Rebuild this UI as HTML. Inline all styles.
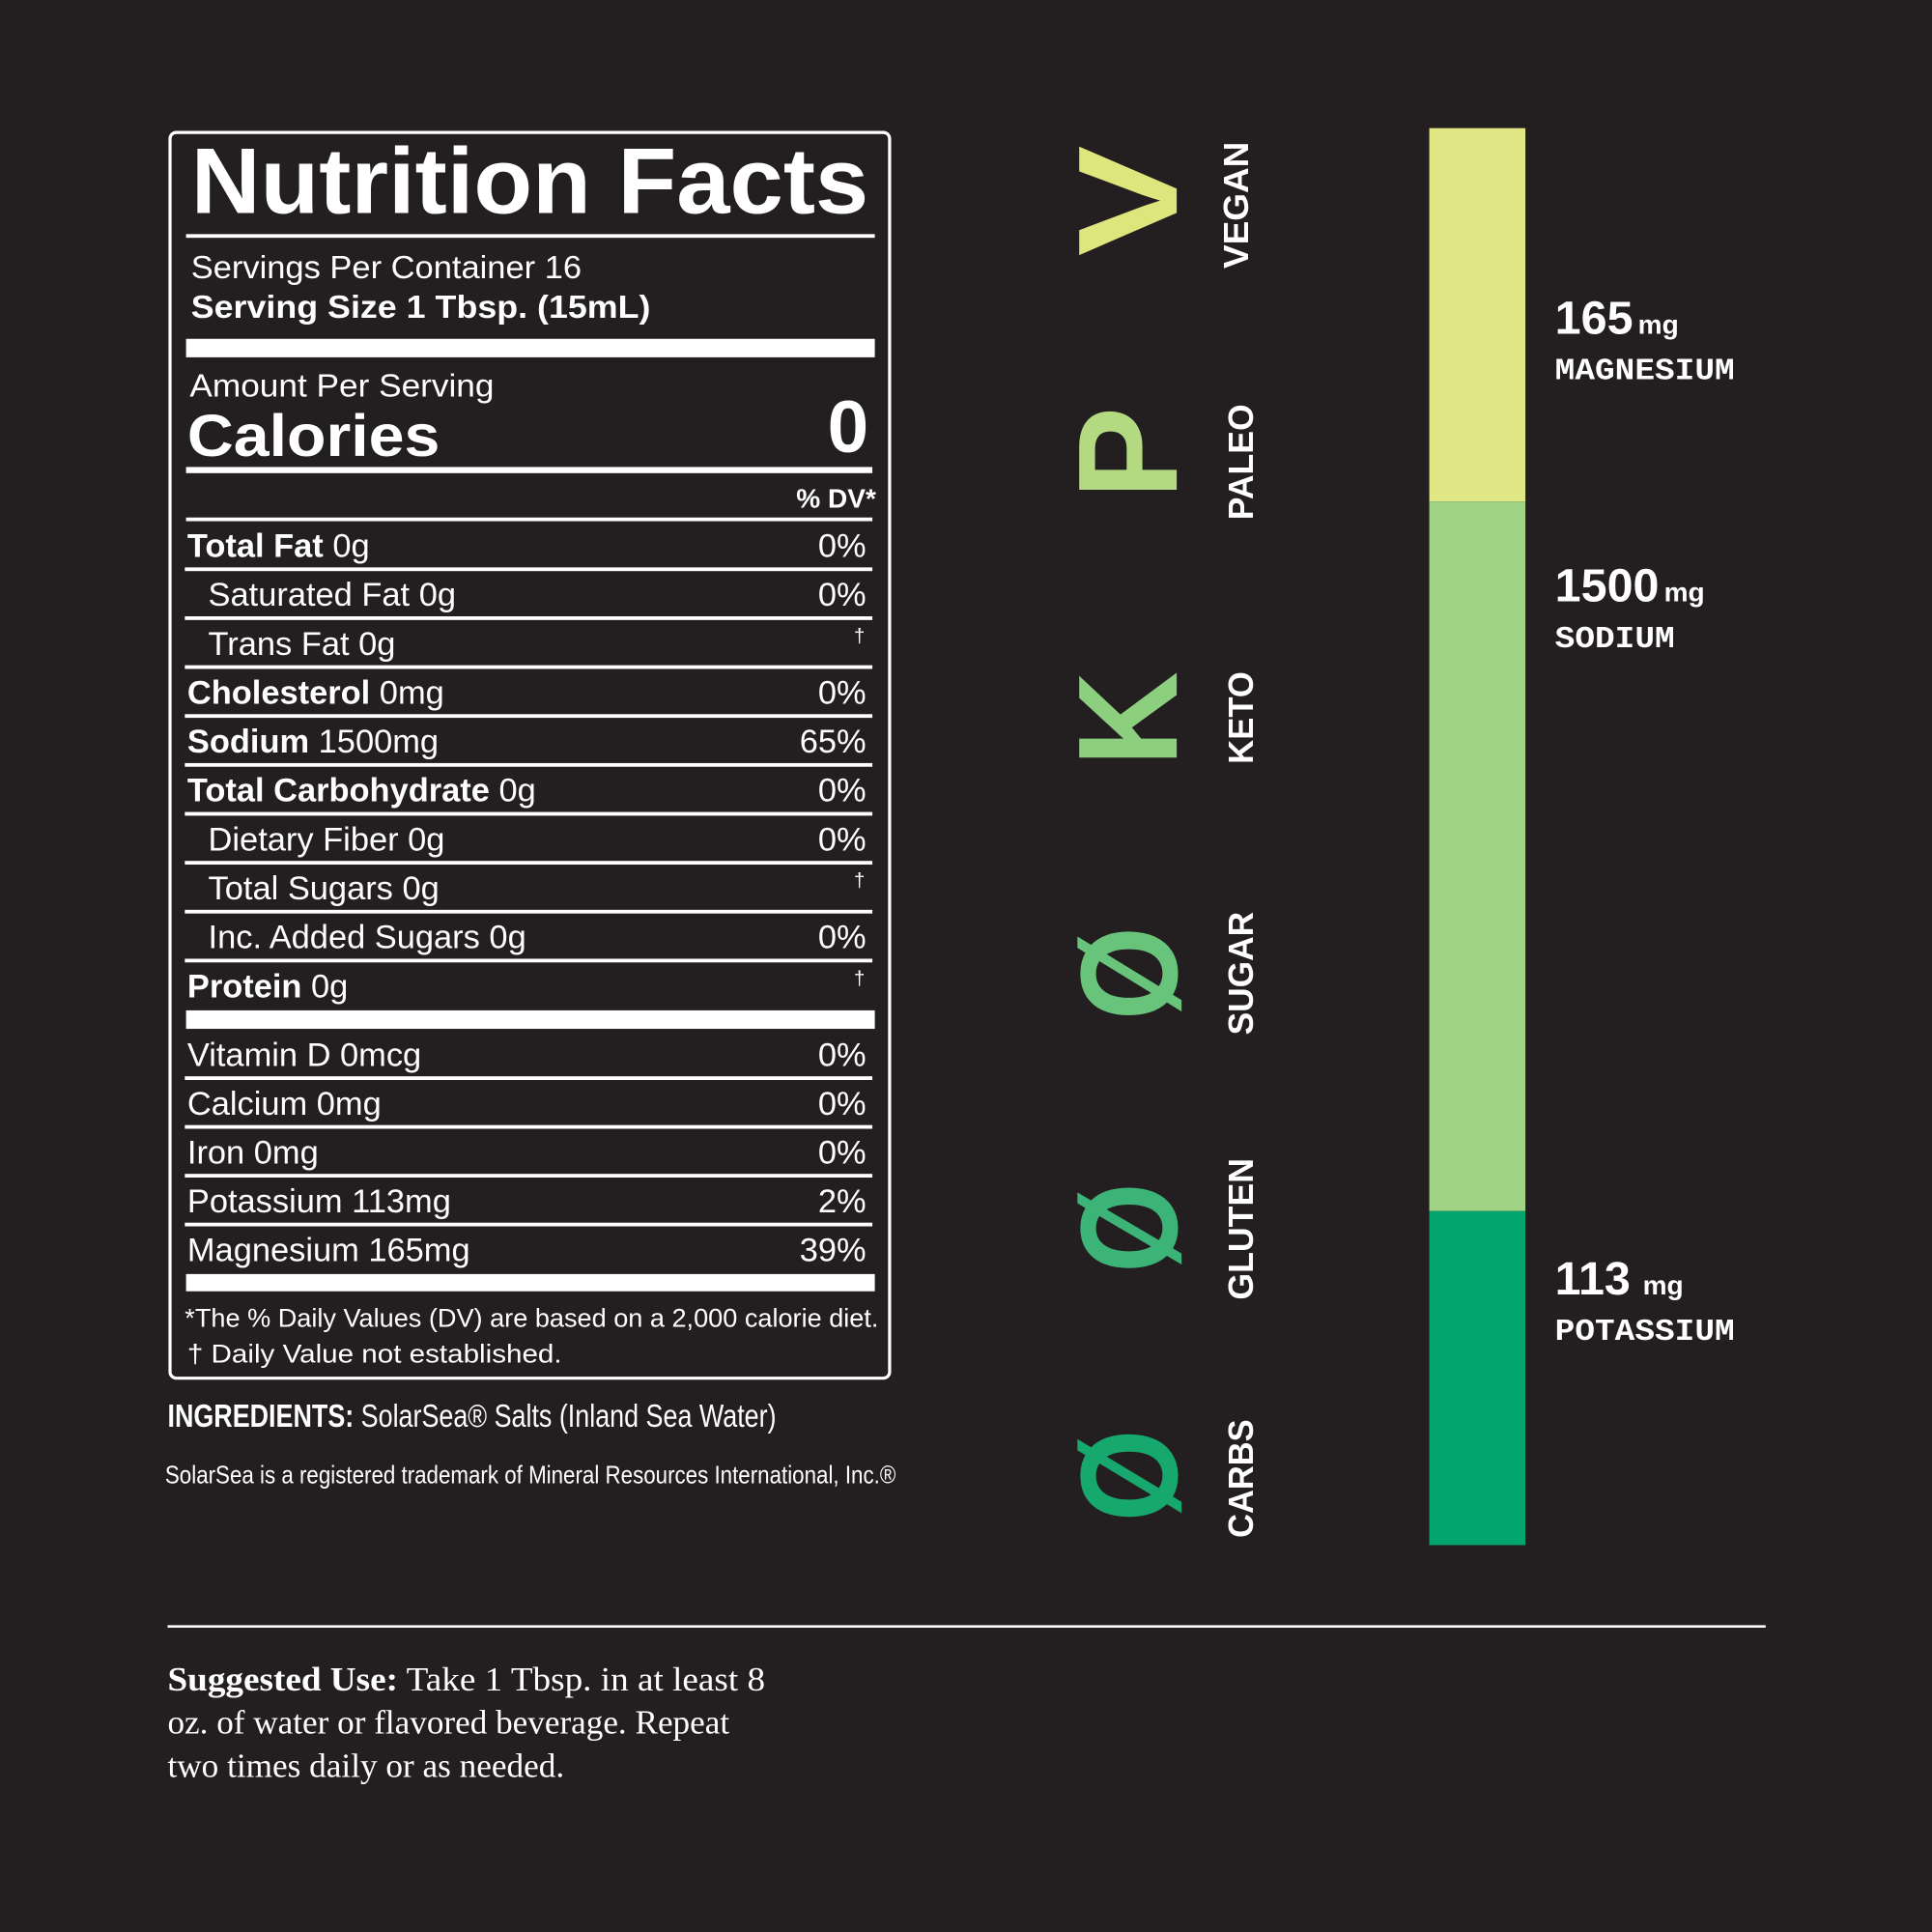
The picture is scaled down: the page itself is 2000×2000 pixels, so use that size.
<!DOCTYPE html>
<html><head><meta charset="utf-8"><style>
html,body{margin:0;padding:0;background:#231f20;}
svg{display:block;}
text{font-family:"Liberation Sans",sans-serif;fill:#fff;}
</style></head><body>
<svg id="s" width="2000" height="2000" viewBox="0 0 1568 1568" xmlns="http://www.w3.org/2000/svg">
<rect x="0" y="0" width="1568" height="1568" fill="#231f20"/>
<g id="label">
<rect x="138" y="107.5" width="584" height="1011" rx="5" fill="none" stroke="#fff" stroke-width="2.5"/>
<text x="155" y="173" font-size="76" font-weight="bold" textLength="550" lengthAdjust="spacingAndGlyphs">Nutrition Facts</text>
<rect x="151" y="190" width="559" height="3" fill="#fff"/>
<text x="155" y="226" font-size="26" textLength="317" lengthAdjust="spacingAndGlyphs">Servings Per Container 16</text>
<text x="155" y="258" font-size="26" font-weight="bold" textLength="373" lengthAdjust="spacingAndGlyphs">Serving Size 1 Tbsp. (15mL)</text>
<rect x="151" y="275" width="559" height="15" fill="#fff"/>
<text x="154" y="322" font-size="26" textLength="247" lengthAdjust="spacingAndGlyphs">Amount Per Serving</text>
<text x="152" y="370" font-size="48" font-weight="bold" textLength="205" lengthAdjust="spacingAndGlyphs">Calories</text>
<text x="705" y="367" font-size="60" font-weight="bold" text-anchor="end">0</text>
<rect x="151" y="379" width="557" height="5" fill="#fff"/>
<text x="711" y="412" font-size="22" font-weight="bold" text-anchor="end">% DV*</text>
<rect x="151" y="420" width="557" height="3" fill="#fff"/>
<g id="rows"></g>
<rect x="151" y="820" width="559" height="15" fill="#fff"/>
<rect x="151" y="1034" width="559" height="14" fill="#fff"/>
<text x="150" y="1077" font-size="21" textLength="563" lengthAdjust="spacingAndGlyphs">*The % Daily Values (DV) are based on a 2,000 calorie diet.</text>
<text x="152" y="1106" font-size="21" textLength="304" lengthAdjust="spacingAndGlyphs">† Daily Value not established.</text>
</g>
<text x="136" y="1158" font-size="26" textLength="494" lengthAdjust="spacingAndGlyphs"><tspan font-weight="bold">INGREDIENTS:</tspan> SolarSea® Salts (Inland Sea Water)</text>
<text x="134" y="1204" font-size="20" textLength="593" lengthAdjust="spacingAndGlyphs">SolarSea is a registered trademark of Mineral Resources International, Inc.®</text>
<rect x="136" y="1319" width="1297" height="2" fill="#fff"/>
<g font-size="27">
<text x="136" y="1372" textLength="485" lengthAdjust="spacingAndGlyphs" style="font-family:'Liberation Serif',serif"><tspan font-weight="bold">Suggested Use:</tspan> Take 1 Tbsp. in at least 8</text>
<text x="136" y="1407" textLength="456" lengthAdjust="spacingAndGlyphs" style="font-family:'Liberation Serif',serif">oz. of water or flavored beverage. Repeat</text>
<text x="136" y="1442" textLength="322" lengthAdjust="spacingAndGlyphs" style="font-family:'Liberation Serif',serif">two times daily or as needed.</text>
</g>
<g id="badges"></g>
<g id="bar"></g>
</svg>
<script>
// Nutrition rows
const rowLabels = ["Total Fat","Saturated Fat","Trans Fat","Cholesterol","Sodium","Total Carbohydrate","Dietary Fiber","Total Sugars","Inc. Added Sugars","Protein","Vitamin D","Calcium","Iron","Potassium","Magnesium"];
const rowAmounts = ["0g","0g","0g","0mg","1500mg","0g","0g","0g","0g","0g","0mcg","0mg","0mg","113mg","165mg"];
const rowDV = ["0%","0%","†","0%","65%","0%","0%","†","0%","†","0%","0%","0%","2%","39%"];
const rowBold = [1,0,0,1,1,1,0,0,0,1,0,0,0,0,0];
const rowIndent = [0,1,1,0,0,0,1,1,1,0,0,0,0,0,0];
// Bar chart data
const minerals = ["MAGNESIUM","SODIUM","POTASSIUM"];
const mineralValues = [165,1500,113];
const segStart = [0,26.35,76.43];
const segEnd = [26.35,76.43,100];
const segColors = ["#e0e784","#a0d384","#02a56d"];
const labelPos = [14.5,33.4,82.3];
// Badges
const badgeLetters = ["V","P","K","Ø","Ø","Ø"];
const badgeWords = ["VEGAN","PALEO","KETO","SUGAR","GLUTEN","CARBS"];
const badgeColors = ["#dce67c","#b3da80","#8ccf7e","#68c47b","#3db477","#17a86e"];

const NS="http://www.w3.org/2000/svg";
function mk(tag,attrs,parent){const e=document.createElementNS(NS,tag);for(const k in attrs)e.setAttribute(k,attrs[k]);parent.appendChild(e);return e;}

const rows=document.getElementById('rows');
rowLabels.forEach((lab,i)=>{
  const base = i<10 ? 452+39.7*i : 865+39.6*(i-10);
  const t=mk('text',{x:rowIndent[i]?169:152,y:base,'font-size':27},rows);
  
  
  const a=mk('tspan',{'font-weight':rowBold[i]?'bold':'normal'},t);a.textContent=lab;
  const b=mk('tspan',{},t);b.textContent=' '+rowAmounts[i];
  const isDag=rowDV[i]==='†';
  const d=mk('text',{x:isDag?702:703,y:isDag?base-10:base,'font-size':isDag?16:27,'text-anchor':'end'},rows);
  
  
  d.textContent=rowDV[i];
  if(i!==9 && i!==14){
    const r=mk('rect',{x:150,y:base+8.5,width:558,height:3,fill:'#fff'},rows);
    
    
  }
});

// Bar chart
const bar=document.getElementById('bar');
const top0=104,h0=1150;
const y=v=>top0+h0*v/100;
minerals.forEach((m,i)=>{
  const r=mk('rect',{x:1160,y:y(segStart[i]),width:78,height:y(segEnd[i])-y(segStart[i]),fill:segColors[i]},bar);
  
  
  const ly=y(labelPos[i]);
  const v=mk('text',{x:1262,y:ly,'font-size':38,'font-weight':'bold'},bar);
  
  
  const t1=mk('tspan',{},v);t1.textContent=String(mineralValues[i]);
  const t2=mk('tspan',{'font-size':22,dx:i===2?10:4},v);t2.textContent='mg';
  const n=mk('text',{x:1262,y:ly+37,'font-size':25,'font-weight':'bold',style:"font-family:'Liberation Mono',monospace",textLength:m.length*16.2,lengthAdjust:'spacingAndGlyphs'},bar);
  
  
  n.textContent=m;
});

// Badges
const badges=document.getElementById('badges');
const badgeBottom=[208,405,622,828,1033,1235];
const badgeLen=[90,75,77,76,73,75];
const wordBottom=[218,422,620,840,1055,1248];
const wordLen=[103,94,75,100,115,96];
badgeLetters.forEach((L,i)=>{
  const t=mk('text',{transform:`translate(955,${badgeBottom[i]}) rotate(-90)`,'font-size':L==='Ø'?112:115,'font-weight':'bold',style:'fill:'+badgeColors[i],textLength:badgeLen[i],lengthAdjust:'spacingAndGlyphs'},badges);
  
  
  t.textContent=L;
  const w=mk('text',{transform:`translate(${i===0?1013:1017},${wordBottom[i]}) rotate(-90)`,'font-size':28,'font-weight':'bold',textLength:wordLen[i],lengthAdjust:'spacingAndGlyphs'},badges);
  
  
  w.textContent=badgeWords[i];
});
</script>
</body></html>
